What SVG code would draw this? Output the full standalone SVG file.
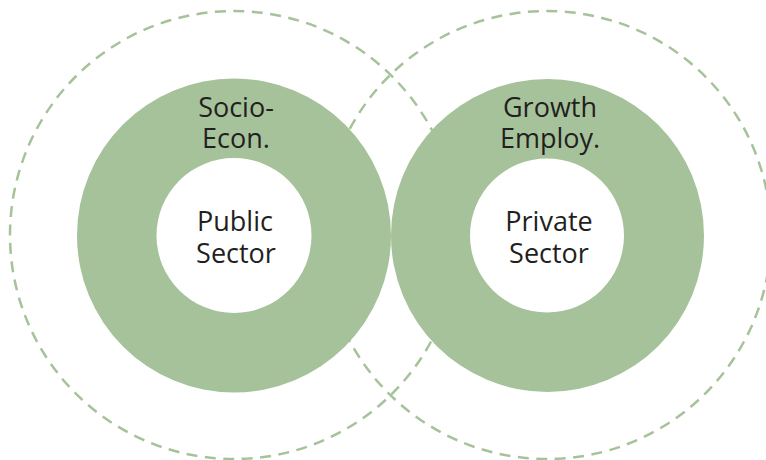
<svg xmlns="http://www.w3.org/2000/svg" width="766" height="460" viewBox="0 0 766 460">
  <style>
    .halo { fill: none; stroke: #a6c29a; stroke-width: 2.5; stroke-dasharray: 11 7.5; }
    .ring { fill: #a6c29a; fill-rule: evenodd; }
    .label { font-family: "Open Sans", "Liberation Sans", sans-serif; font-size: 27px; fill: #231f20; text-anchor: middle; }
  </style>
  <rect width="766" height="460" fill="#ffffff"/>
  <!-- dashed outer halos, drawn beneath the rings -->
  <g id="connectors">
    <circle class="halo" cx="234" cy="235" r="224"/>
    <circle class="halo" cx="547" cy="235" r="224"/>
  </g>
  <g id="public">
    <path class="ring" d="M77,235.5 a157,157 0 1,0 314,0 a157,157 0 1,0 -314,0 Z M156.5,235.5 a77.5,77.5 0 1,0 155,0 a77.5,77.5 0 1,0 -155,0 Z"/>
    <text class="label" x="236" y="117">Socio-</text>
    <text class="label" x="236" y="148">Econ.</text>
    <text class="label" x="235" y="231">Public</text>
    <text class="label" x="236" y="263">Sector</text>
  </g>
  <g id="private">
    <path class="ring" d="M391,235.5 a156.5,156.5 0 1,0 313,0 a156.5,156.5 0 1,0 -313,0 Z M470,235.5 a77,77 0 1,0 154,0 a77,77 0 1,0 -154,0 Z"/>
    <text class="label" x="550" y="117">Growth</text>
    <text class="label" x="550" y="148">Employ.</text>
    <text class="label" x="549" y="231">Private</text>
    <text class="label" x="549" y="263">Sector</text>
  </g>
</svg>
